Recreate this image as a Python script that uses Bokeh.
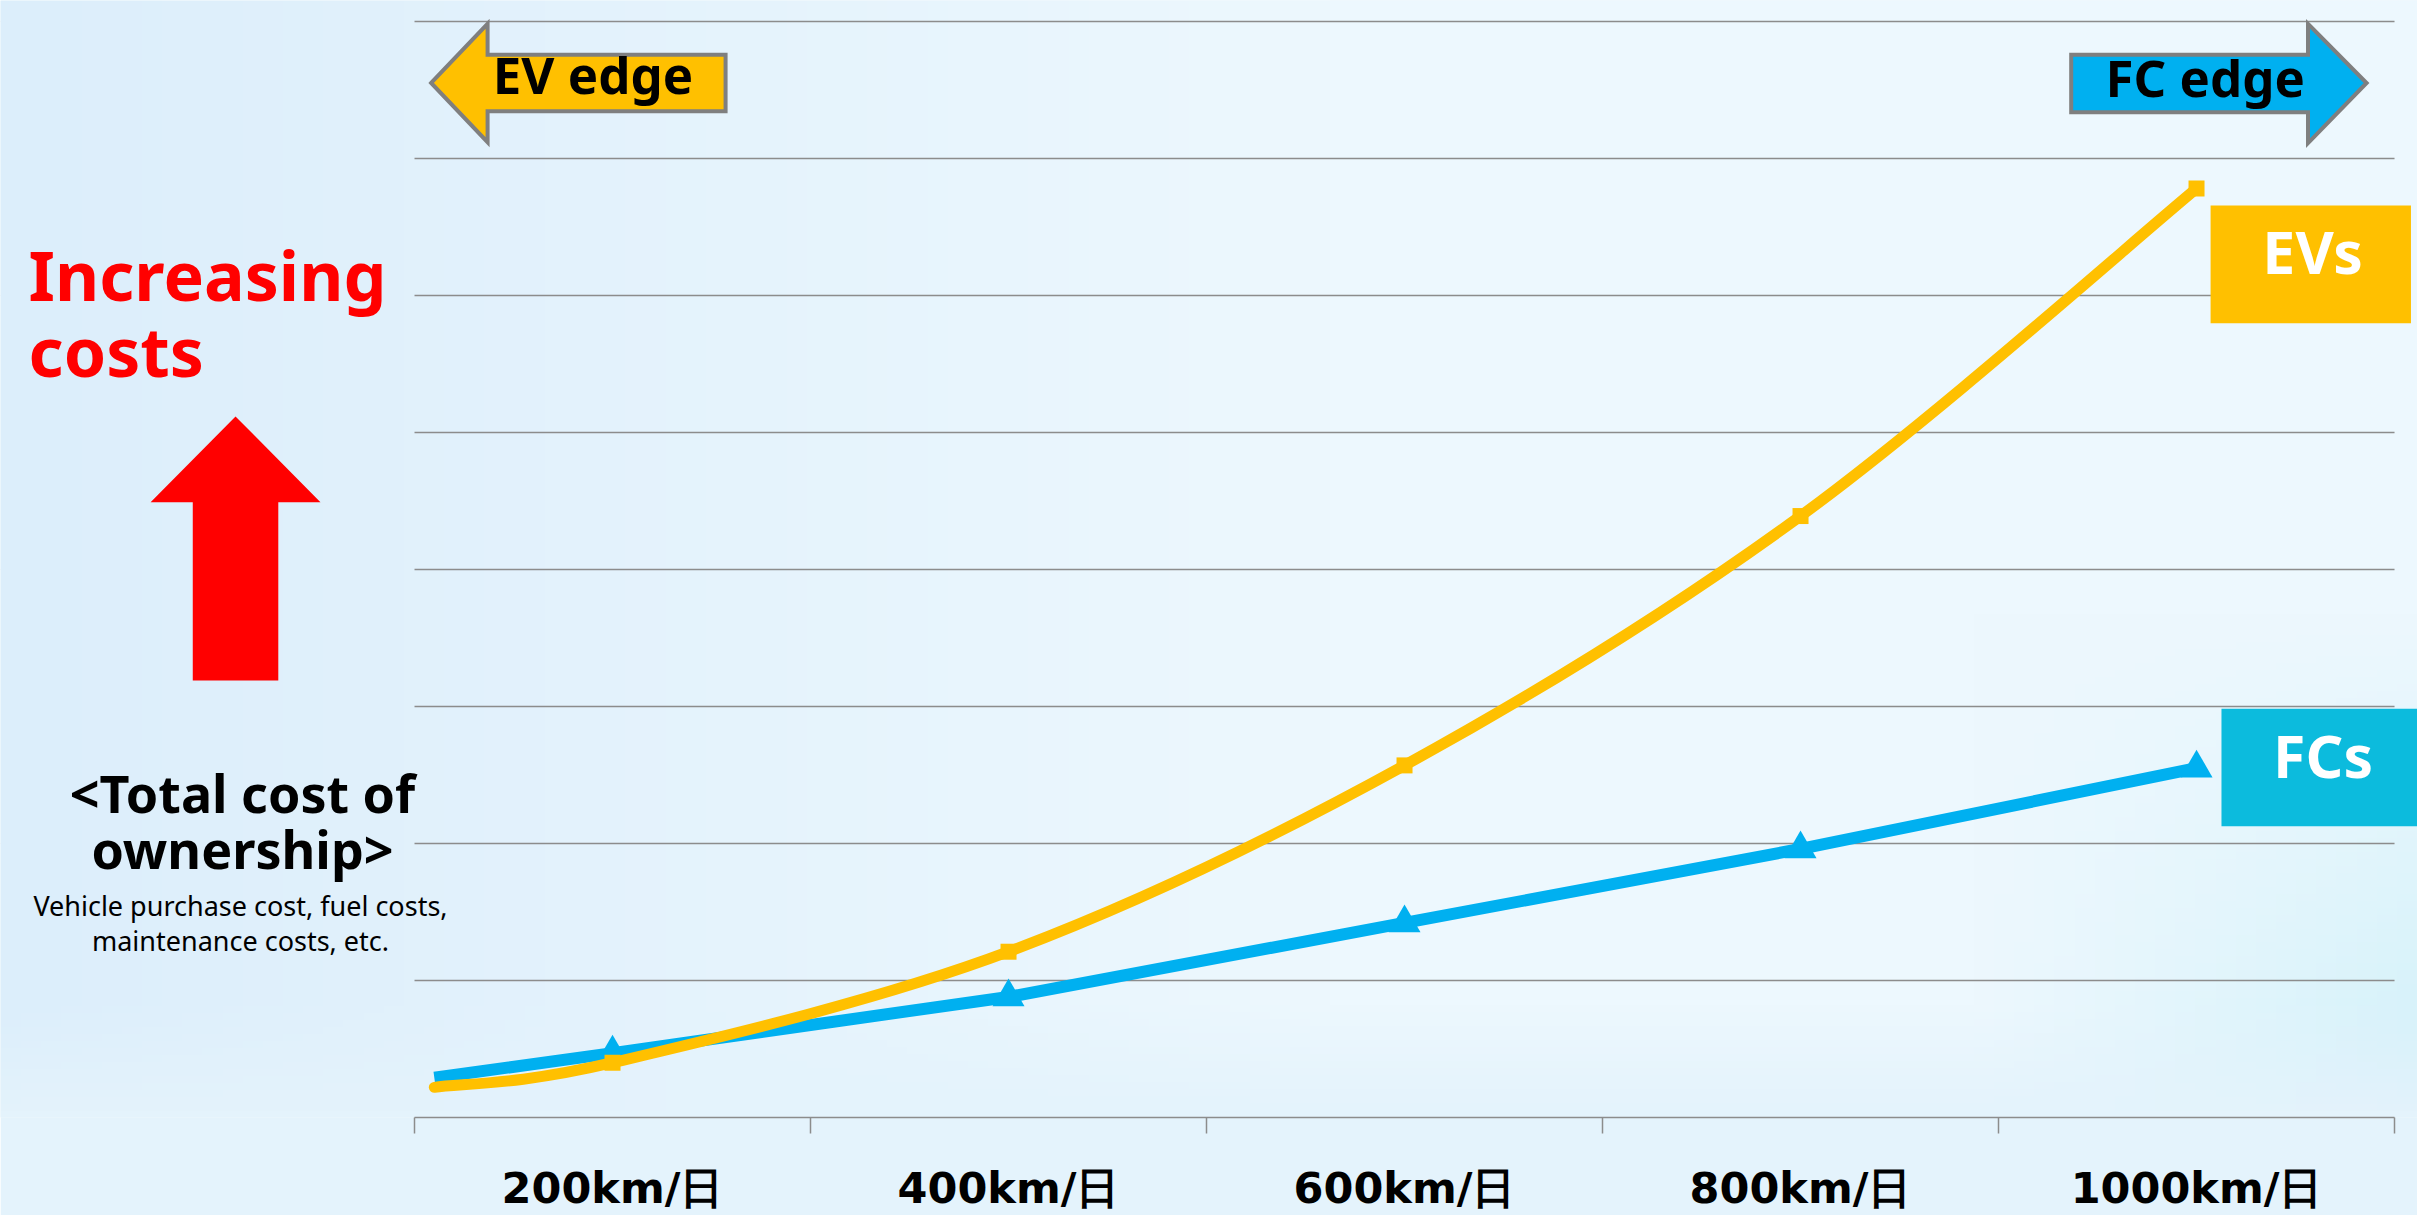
import numpy as np
from bokeh.plotting import figure
from bokeh.models import Range1d, FixedTicker, Label, ColumnDataSource
from bokeh.embed import file_html
from bokeh.resources import INLINE

# ---------------- data ----------------
distance_km = [200, 400, 600, 800, 1000]
tick_labels = ["200km/日", "400km/日", "600km/日", "800km/日", "1000km/日"]
category_edges = [100, 300, 500, 700, 900, 1100]
grid_levels = [1, 2, 3, 4, 5, 6, 7, 8]

line_start_km = 110
ev_start_cost = 0.22
fc_start_cost = 0.29
ev_cost = [0.40, 1.21, 2.57, 4.39, 6.78]
fc_cost = [0.47, 0.88, 1.42, 1.96, 2.55]

EV_COLOR = "#FFC000"
FC_COLOR = "#00B0F0"
FC_BOX = "#0CBBDD"
GRID = "#8C8C8C"
BG_RGB = (228, 243, 252)
BG = "#%02X%02X%02X" % BG_RGB

X0, X1 = -109.1, 1111.6
Y1 = 8.153
PX_PER_UNIT = 137.0

# ---------------- figure ----------------
p = figure(frame_width=2417, frame_height=1117,
           x_range=Range1d(X0, X1), y_range=Range1d(0, Y1),
           y_axis_location=None, toolbar_location=None, output_backend="svg",
           min_border_left=0, min_border_right=0, min_border_top=0,
           min_border_bottom=0)
p.background_fill_color = BG
p.border_fill_color = BG
p.outline_line_color = None
p.xgrid.visible = False

# soft light-blue background wash (fades into the flat band under the axis)
ny, nx = 160, 120
gx, gy = np.meshgrid(np.linspace(0, 1, nx), np.linspace(0, 1, ny))
left_c = np.array([220, 238, 251], dtype=float)
mid_c = np.array([237, 248, 254], dtype=float)
corner_c = np.array([210, 241, 249], dtype=float)
s = np.clip(gx / 0.55, 0, 1)[..., None]
rgb = left_c * (1 - s) + mid_c * s
w = (np.clip((gx - 0.82) / 0.18, 0, 1) * np.clip((0.45 - gy) / 0.45, 0, 1))[..., None]
rgb = rgb * (1 - w) + corner_c * w
b = np.clip(gy / 0.1, 0, 1)[..., None]
rgb = np.array(BG_RGB, dtype=float) * (1 - b) + rgb * b
img = np.empty((ny, nx), dtype=np.uint32)
view = img.view(dtype=np.uint8).reshape((ny, nx, 4))
view[..., :3] = rgb.astype(np.uint8)
view[..., 3] = 255
p.image_rgba(image=[img], x=X0, y=0, dw=X1 - X0, dh=Y1)

# horizontal grid lines over the category area only
p.segment(x0=[category_edges[0]] * len(grid_levels), y0=grid_levels,
          x1=[category_edges[-1]] * len(grid_levels), y1=grid_levels,
          line_color=GRID, line_width=1.5)

ax = p.xaxis[0]
ax.bounds = (category_edges[0], category_edges[-1])
ax.ticker = FixedTicker(ticks=distance_km, minor_ticks=category_edges)
ax.major_label_overrides = {k: v for k, v in zip(distance_km, tick_labels)}
ax.major_tick_in = 0
ax.major_tick_out = 0
ax.minor_tick_in = 0
ax.minor_tick_out = 16
ax.minor_tick_line_color = GRID
ax.minor_tick_line_width = 1.5
ax.axis_line_color = GRID
ax.axis_line_width = 1.5
ax.major_label_standoff = 29
ax.major_label_text_font = "DejaVu Sans"
ax.major_label_text_font_size = "43px"
ax.major_label_text_font_style = "bold"
ax.major_label_text_color = "black"

# ---------------- series ----------------
fc_x = [line_start_km] + distance_km
fc_y = [fc_start_cost] + fc_cost
p.line(fc_x, fc_y, line_color=FC_COLOR, line_width=12, line_join="round")
p.scatter(distance_km, fc_cost, marker="triangle", size=32,
          fill_color=FC_COLOR, line_color=None)


def smooth_segments(xs, ys):
    pts = list(zip(xs, ys))
    n = len(pts)
    out = {k: [] for k in ("x0", "y0", "x1", "y1", "cx0", "cy0", "cx1", "cy1")}
    for i in range(n - 1):
        a = pts[i - 1] if i > 0 else pts[i]
        b_ = pts[i]
        c = pts[i + 1]
        d = pts[i + 2] if i + 2 < n else pts[i + 1]
        out["x0"].append(b_[0]); out["y0"].append(b_[1])
        out["x1"].append(c[0]); out["y1"].append(c[1])
        out["cx0"].append(b_[0] + (c[0] - a[0]) / 6)
        out["cy0"].append(b_[1] + (c[1] - a[1]) / 6)
        out["cx1"].append(c[0] - (d[0] - b_[0]) / 6)
        out["cy1"].append(c[1] - (d[1] - b_[1]) / 6)
    return out


ev_x = [line_start_km] + distance_km
ev_y = [ev_start_cost] + ev_cost
ev_src = ColumnDataSource(smooth_segments(ev_x, ev_y))
p.bezier("x0", "y0", "x1", "y1", "cx0", "cy0", "cx1", "cy1", source=ev_src,
         line_color=EV_COLOR, line_width=11, line_cap="round")
p.scatter(distance_km, ev_cost, marker="square", size=16,
          fill_color=EV_COLOR, line_color=None)

# ---------------- edge arrows ----------------
p.patch([108.4, 136.9, 136.9, 257.1, 257.1, 136.9, 136.9],
        [7.551, 7.983, 7.757, 7.757, 7.345, 7.345, 7.119],
        fill_color=EV_COLOR, line_color="#7F7F7F", line_width=4,
        line_join="miter")
p.patch([936.7, 1056.3, 1056.3, 1085.9, 1056.3, 1056.3, 936.7],
        [7.757, 7.757, 7.983, 7.551, 7.112, 7.338, 7.338],
        fill_color=FC_COLOR, line_color="#7F7F7F", line_width=4,
        line_join="miter")


def label(text, x, baseline, size_px, color="black", style="bold",
          align="center", font="Noto Sans"):
    y = baseline + 0.38 * size_px / PX_PER_UNIT
    p.add_layout(Label(x=x, y=y, text=text, text_font=font,
                       text_font_size=f"{size_px}px", text_color=color,
                       text_font_style=style, text_align=align,
                       text_baseline="alphabetic"))


label("EV edge", 190.1, 7.473, 51)
label("FC edge", 1004.4, 7.455, 51)

# ---------------- series name boxes ----------------
p.quad(left=[1007.1], right=[1108.3], bottom=[5.798], top=[6.657],
       fill_color=EV_COLOR, line_color=None)
p.quad(left=[1012.6], right=[1114.3], bottom=[2.126], top=[2.983],
       fill_color=FC_BOX, line_color=None)
label("EVs", 1058.6, 6.161, 59, color="white")
label("FCs", 1063.9, 2.484, 59, color="white")

# ---------------- left annotations ----------------
label("Increasing", -94.9, 5.964, 68, color="#FF0000", align="left")
label("costs", -94.9, 5.409, 68, color="#FF0000", align="left")
p.patch([9.6, 52.5, 31.2, 31.2, -12.0, -12.0, -33.3],
        [5.117, 4.491, 4.491, 3.190, 3.190, 4.491, 4.491],
        fill_color="#FF0000", line_color=None)
label("<Total cost of", 13.1, 2.228, 52)
label("ownership>", 13.1, 1.818, 52)
label("Vehicle purchase cost, fuel costs,", 12.1, 1.474, 27, style="normal")
label("maintenance costs, etc.", 12.1, 1.214, 27, style="normal")

open("out.html", "w").write(file_html(p, INLINE))
